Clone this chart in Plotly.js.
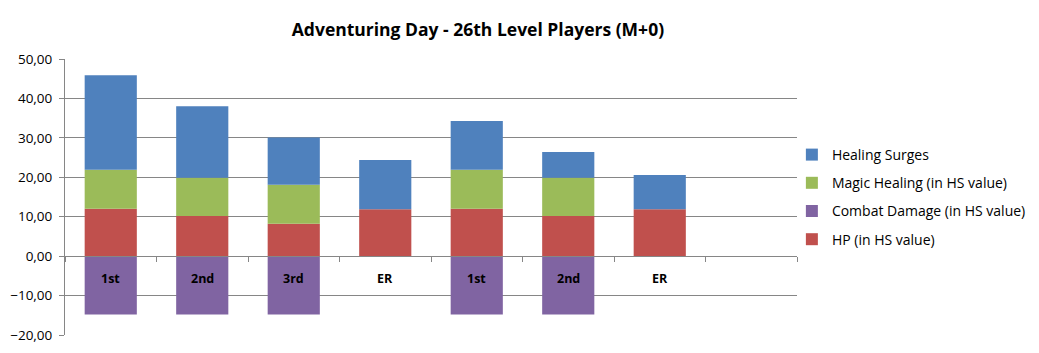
<!DOCTYPE html>
<html><head><meta charset="utf-8">
<script src="https://cdn.plot.ly/plotly-3.0.1.min.js"></script>
<style>html,body{margin:0;padding:0;background:#fff}#c{width:1039px;height:353px}</style>
</head><body><div id="c"></div>
<script>
const categories = ["1st","2nd","3rd","ER","1st","2nd","ER",""];
const hp = [12.0, 10.2, 8.2, 11.9, 12.0, 10.2, 11.9, null];
const combatDamage = [-14.8, -14.8, -14.8, null, -14.8, -14.8, null, null];
const magicHealing = [9.9, 9.7, 9.9, null, 9.9, 9.7, null, null];
const healingSurges = [24.0, 18.1, 12.0, 12.5, 12.4, 6.5, 8.7, null];
const yTicks = [-20, -10, 0, 10, 20, 30, 40, 50];

const xs = categories.map((c, i) => i);
const font = "Open Sans, Noto Sans, sans-serif";
function bar(name, y, color, g, rank) {
  return {type: "bar", name: name, x: xs, y: y, marker: {color: color, line: {width: 0}},
          legendgroup: g, legendrank: rank, hoverinfo: "y+name"};
}
const data = [
  bar("HP (in HS value)", hp, "#C0504D", "d", 4),
  bar("Combat Damage (in HS value)", combatDamage, "#8064A2", "c", 3),
  bar("Magic Healing (in HS value)", magicHealing, "#9BBB59", "b", 2),
  bar("Healing Surges", healingSurges, "#4F81BD", "a", 1)
];
const annotations = categories.map((c, i) => ({
  x: i, y: 0, xref: "x", yref: "y", text: "<b>" + c + "</b>", showarrow: false,
  yanchor: "top", yshift: -12, font: {family: font, size: 12.5, color: "#000"}
}));
const layout = {
  width: 1039, height: 353,
  margin: {l: 65, r: 242, t: 59, b: 18, autoexpand: false},
  paper_bgcolor: "#fff", plot_bgcolor: "#fff",
  separators: ",.",
  barmode: "relative", bargap: 0.43,
  title: {text: "<b>Adventuring Day - 26th Level Players (M+0)</b>", x: 0.46, xanchor: "center",
          y: 0.915, yanchor: "middle", font: {family: font, size: 17.5, color: "#000"}},
  xaxis: {range: [-0.5, 7.5], showgrid: false, zeroline: false, showticklabels: false,
          anchor: "free", position: 2/7, showline: true, linecolor: "#868686", linewidth: 1,
          ticks: "outside", ticklen: 5, tickcolor: "#868686",
          tickmode: "array", tickvals: xs.map(v => v - 0.5).concat([xs.length - 0.5])},
  yaxis: {range: [-20, 50], tickmode: "array", tickvals: yTicks, tickformat: ".2f",
          showgrid: true, gridcolor: "#868686", gridwidth: 1, zeroline: false,
          showline: true, linecolor: "#868686", ticks: "outside", ticklen: 5, tickcolor: "#868686",
          tickfont: {family: font, size: 13.5, color: "#000"}, ticklabelstandoff: 4},
  legend: {x: 0.993, xanchor: "left", y: 0.5, yanchor: "middle", tracegroupgap: 7,
           traceorder: "grouped",
           font: {family: font, size: 14, color: "#000"}, itemwidth: 30, bgcolor: "rgba(0,0,0,0)"},
  annotations: annotations,
  showlegend: true
};
Plotly.newPlot("c", data, layout, {displayModeBar: false, staticPlot: true});
</script></body></html>
